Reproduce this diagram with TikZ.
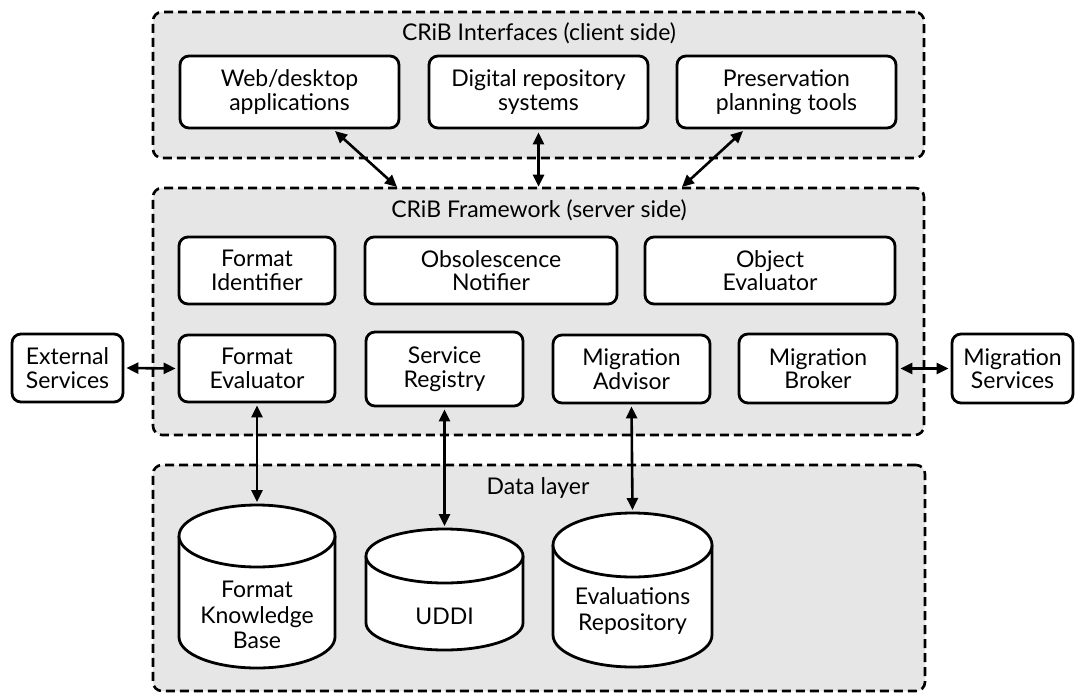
\documentclass[tikz,border=0pt]{standalone}
\usepackage{fontspec}
\setmainfont{Lato}
\usetikzlibrary{arrows.meta,calc}
\definecolor{layergray}{RGB}{230,230,230}
\tikzset{
  layer/.style={draw=black, fill=layergray, line width=2.6pt, dash pattern=on 9pt off 5pt, rounded corners=9pt, inner sep=0pt},
  box/.style={draw=black, fill=white, line width=2.8pt, rounded corners=9pt, align=center, inner sep=0pt, font=\fontsize{23}{23.5}\selectfont},
  title/.style={font=\fontsize{23}{23.5}\selectfont, anchor=base},
  cyl/.style={draw=black, fill=white, line width=2.8pt},
  cyltext/.style={align=center, font=\fontsize{23}{25.5}\selectfont},
  link/.style={line width=2.6pt, {Triangle[length=12pt,width=11pt]}-{Triangle[length=12pt,width=11pt]}},
}
\begin{document}
\begin{tikzpicture}[x=1pt,y=-1pt]
\useasboundingbox (0,0) rectangle (1075,693);
% layers
\node[layer, minimum width=771pt, minimum height=146pt] (top) at (538.5,85) {};
\node[layer, minimum width=771pt, minimum height=247pt] (mid) at (538.5,311.5) {};
\node[layer, minimum width=772pt, minimum height=226pt] (data) at (539,578) {};
\node[title] (toptitle) at (539,41) {CRiB Interfaces (client side)};
\node[title] (midtitle) at (539,217) {CRiB Framework (server side)};
\node[title] (datatitle) at (538,494) {Data layer};
% client boxes
\node[box, minimum width=219pt, minimum height=72pt] (web) at (289.5,92) {Web/desktop\\applications};
\node[box, minimum width=219pt, minimum height=72pt] (dig) at (538.5,92) {Digital repository\\systems};
\node[box, minimum width=219pt, minimum height=72pt] (pres) at (786.5,92) {Preservation\\planning tools};
% framework boxes
\node[box, minimum width=156pt, minimum height=67pt] (fi) at (257,270.5) {Format\\Identifier};
\node[box, minimum width=252pt, minimum height=67pt] (on) at (491,270.5) {Obsolescence\\Notifier};
\node[box, minimum width=250pt, minimum height=67pt] (oe) at (770,270.5) {Object\\Evaluator};
\node[box, minimum width=156pt, minimum height=67pt] (fe) at (257,368.5) {Format\\Evaluator};
\node[box, minimum width=157pt, minimum height=74pt] (sr) at (444.5,369) {Service\\Registry};
\node[box, minimum width=157pt, minimum height=68pt] (ma) at (631.5,369) {Migration\\Advisor};
\node[box, minimum width=158pt, minimum height=69pt] (mb) at (818,368.5) {Migration\\Broker};
\node[box, minimum width=111pt, minimum height=68pt] (es) at (67.5,368) {External\\Services};
\node[box, minimum width=121pt, minimum height=69pt] (ms) at (1012.5,368.5) {Migration\\Services};
% cylinders
\draw[cyl] (179,536) -- (179,637) arc[start angle=180,end angle=360,x radius=78pt,y radius=31pt] -- (335,536) arc[start angle=0,end angle=180,x radius=78pt,y radius=31pt] -- cycle;
\draw[cyl] (179,536) arc[start angle=180,end angle=360,x radius=78pt,y radius=31pt];
\coordinate (fkbtop) at (257,505);
\node[cyltext] (fkb) at (257,615) {Format\\Knowledge\\Base};
\draw[cyl] (366,556) -- (366,623) arc[start angle=180,end angle=360,x radius=78.5pt,y radius=27pt] -- (523,556) arc[start angle=0,end angle=180,x radius=78.5pt,y radius=27pt] -- cycle;
\draw[cyl] (366,556) arc[start angle=180,end angle=360,x radius=78.5pt,y radius=27pt];
\coordinate (udditop) at (444.5,529);
\node[cyltext] (uddi) at (444.5,616) {UDDI};
\draw[cyl] (553,545) -- (553,635) arc[start angle=180,end angle=360,x radius=79.5pt,y radius=32pt] -- (712,545) arc[start angle=0,end angle=180,x radius=79.5pt,y radius=32pt] -- cycle;
\draw[cyl] (553,545) arc[start angle=180,end angle=360,x radius=79.5pt,y radius=32pt];
\coordinate (ertop) at (632.5,513);
\node[cyltext] (er) at (632.5,611) {Evaluations\\Repository};
% connectors
\coordinate (webout) at (335,131);
\coordinate (webin) at (397,187);
\coordinate (presout) at (743,131);
\coordinate (presin) at (682,187);
\draw[link] (webout) -- (webin);
\draw[link] ([yshift=-3pt]dig.south) -- (dig.south |- mid.north);
\draw[link] (presout) -- (presin);
\draw[link] ([xshift=2pt]es.east) -- ([xshift=-2pt]fe.west);
\draw[link] ([xshift=2pt]mb.east) -- ([xshift=-2pt]ms.west);
\draw[link] ([yshift=-2pt]fe.south) -- ([yshift=3pt]fkbtop);
\draw[link] ([yshift=-2pt]sr.south) -- ([yshift=3pt]udditop);
\draw[link] ([yshift=-2pt]ma.south) -- ([yshift=3pt]ertop);
\end{tikzpicture}
\end{document}
